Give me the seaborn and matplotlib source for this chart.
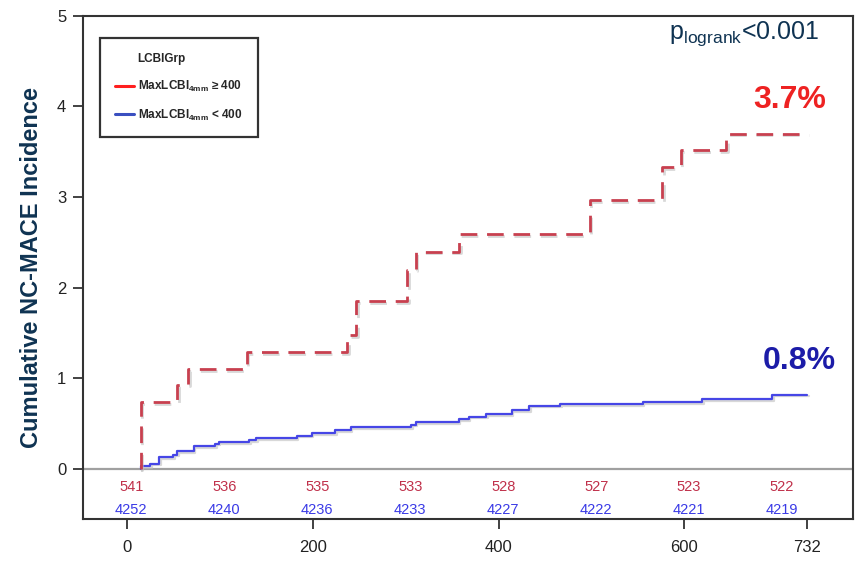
import matplotlib
matplotlib.use("Agg")
import matplotlib.pyplot as plt
import matplotlib.patheffects as pe
from matplotlib.lines import Line2D
import seaborn as sns
import pandas as pd

# Kaplan-Meier style cumulative incidence (%) by LCBI group
high_days = [15, 15, 54, 66, 129, 237, 247, 302, 311, 358, 498, 576, 596, 645, 732]
high_inc = [0.0, 0.74, 0.93, 1.10, 1.29, 1.48, 1.85, 2.20, 2.40, 2.59, 2.97, 3.33, 3.52, 3.70, 3.70]

low_days = [15, 15, 25, 35, 50, 54, 72, 95, 99, 132, 139, 183, 199, 224, 241,
            306, 311, 357, 368, 387, 414, 433, 466, 555, 619, 694, 732]
low_inc = [0.0, 0.03, 0.06, 0.13, 0.16, 0.20, 0.25, 0.28, 0.30, 0.32, 0.34, 0.37, 0.40,
           0.43, 0.46, 0.49, 0.52, 0.55, 0.58, 0.61, 0.65, 0.70, 0.72, 0.74, 0.77, 0.82, 0.82]

# Number at risk
risk_days = [0, 100, 200, 300, 400, 500, 600, 700]
risk_high = [541, 536, 535, 533, 528, 527, 523, 522]
risk_low = [4252, 4240, 4236, 4233, 4227, 4222, 4221, 4219]

x_ticks = [0, 200, 400, 600, 732]
y_ticks = [0, 1, 2, 3, 4, 5]

final_high = "3.7%"
final_low = "0.8%"

RED_LINE = "#c8404f"
BLUE_LINE = "#4646e6"
RED_TEXT = "#ee2222"
BLUE_TEXT = "#1c1ca8"
NAVY = "#0f3352"

sns.set_theme(style="white")
plt.rcParams["font.family"] = ["Liberation Sans", "DejaVu Sans"]
plt.rcParams["mathtext.fontset"] = "custom"
plt.rcParams["mathtext.rm"] = "Liberation Sans"
plt.rcParams["mathtext.bf"] = "Liberation Sans:bold"

fig = plt.figure(figsize=(8.64, 5.65), dpi=100)
ax = fig.add_axes([0.096, 0.0814, 0.891, 0.8906])

df_high = pd.DataFrame({"day": high_days, "inc": high_inc})
df_low = pd.DataFrame({"day": low_days, "inc": low_inc})

shadow = [pe.SimpleLineShadow(offset=(1.2, -1.2), shadow_color="0.75", alpha=0.6), pe.Normal()]

ax.axhline(0, color="#a0a0a0", lw=1.6, zorder=1)

sns.lineplot(data=df_low, x="day", y="inc", ax=ax, estimator=None, sort=False,
             drawstyle="steps-post", color=BLUE_LINE, lw=1.6, zorder=3,
             path_effects=shadow)
sns.lineplot(data=df_high, x="day", y="inc", ax=ax, estimator=None, sort=False,
             drawstyle="steps-post", color=RED_LINE, lw=2.0, zorder=4,
             linestyle=(0, (6, 3.5)), path_effects=shadow)

# at-risk table inside the plotting area
for d, h, l in zip(risk_days, risk_high, risk_low):
    ax.text(d + 5, -0.20, str(h), color="#c0304a", fontsize=10.5, ha="center", va="center")
    ax.text(d + 5, -0.45, str(l), color="#3a3ae6", fontsize=10.5, ha="center", va="center")

ax.set_xlim(-47, 781)
ax.set_ylim(-0.55, 5.0)
ax.set_xticks(x_ticks)
ax.set_xticklabels([str(t) for t in x_ticks])
ax.set_yticks(y_ticks)
ax.tick_params(axis="both", direction="out", length=7, width=1.3, color="#333333",
               labelsize=12, labelcolor="#222222", pad=5, bottom=True, left=True)
ax.tick_params(axis="x", pad=8)
for s in ax.spines.values():
    s.set_color("#333333")
    s.set_linewidth(1.5)

ax.set_xlabel("")
ax.set_ylabel("Cumulative NC-MACE Incidence", fontsize=17, fontweight="bold",
              color=NAVY, labelpad=10)

ax.text(713, 4.07, final_high, color=RED_TEXT, fontsize=23,
        fontweight="bold", ha="center", va="center")
ax.text(724, 1.19, final_low, color=BLUE_TEXT, fontsize=23,
        fontweight="bold", ha="center", va="center")
ax.text(664, 4.80, r"p$_{\mathrm{logrank}}$<0.001", color=NAVY, fontsize=18,
        ha="center", va="center")

handles = [
    Line2D([], [], color="none"),
    Line2D([], [], color="#ff1f1f", lw=2.2),
    Line2D([], [], color="#3a4fc0", lw=2.2),
]
labels = [
    "LCBIGrp",
    r"MaxLCBI$_{\mathbf{4mm}}$ ≥ 400",
    r"MaxLCBI$_{\mathbf{4mm}}$ < 400",
]
leg = ax.legend(handles, labels, loc="upper left", bbox_to_anchor=(0.022, 0.955, 0.205, 0.0),
                mode="expand", prop={"weight": "bold", "size": 8.5},
                frameon=True, fancybox=False, edgecolor="black", handlelength=1.6,
                handletextpad=0.35, labelspacing=1.15, borderpad=1.25, borderaxespad=0)
leg.get_frame().set_linewidth(1.6)

fig.savefig("out.png", dpi=100, facecolor="white")
